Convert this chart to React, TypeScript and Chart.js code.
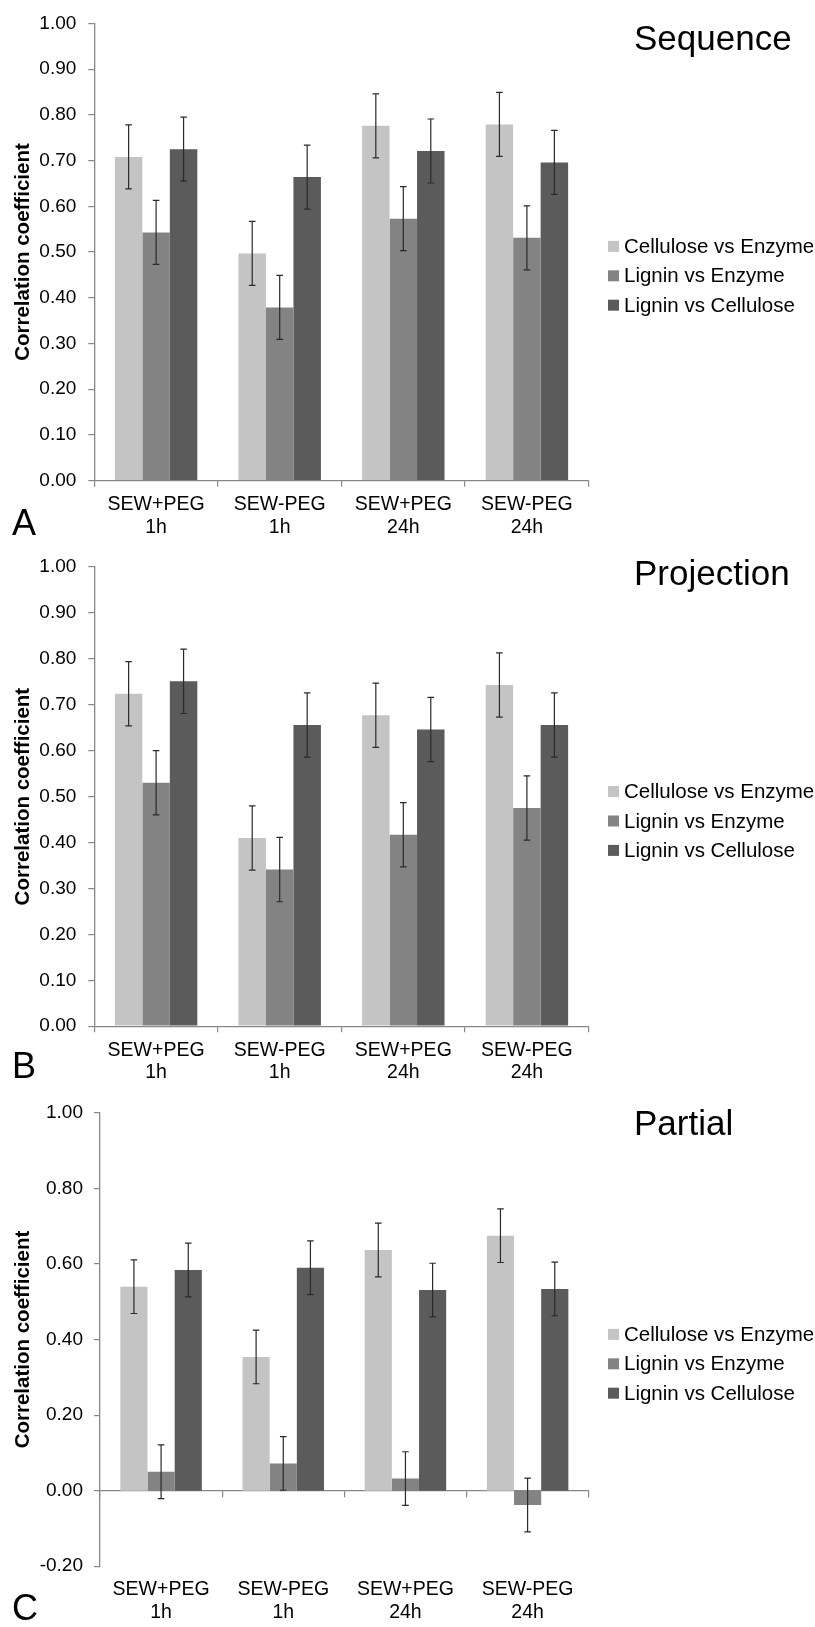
import React, { useEffect, useRef } from 'react';
import { Chart, registerables } from 'chart.js';

Chart.register(...registerables);

// ---------- data ----------
const categoryNames = ['SEW+PEG', 'SEW-PEG', 'SEW+PEG', 'SEW-PEG'];
const categoryTimes = ['1h', '1h', '24h', '24h'];
const seriesNames = ['Cellulose vs Enzyme', 'Lignin vs Enzyme', 'Lignin vs Cellulose'];
const yAxisTitle = 'Correlation coefficient';

// Sequence
const sequenceCellEnz = [0.708, 0.497, 0.776, 0.779];
const sequenceLigEnz = [0.543, 0.379, 0.573, 0.531];
const sequenceLigCel = [0.725, 0.664, 0.721, 0.696];
const sequenceCellEnzErr = [0.07, 0.07, 0.07, 0.07];
const sequenceLigEnzErr = [0.07, 0.07, 0.07, 0.07];
const sequenceLigCelErr = [0.07, 0.07, 0.07, 0.07];

// Projection
const projectionCellEnz = [0.724, 0.41, 0.677, 0.743];
const projectionLigEnz = [0.53, 0.341, 0.417, 0.475];
const projectionLigCel = [0.751, 0.656, 0.646, 0.656];
const projectionCellEnzErr = [0.07, 0.07, 0.07, 0.07];
const projectionLigEnzErr = [0.07, 0.07, 0.07, 0.07];
const projectionLigCelErr = [0.07, 0.07, 0.07, 0.07];

// Partial
const partialCellEnz = [0.54, 0.354, 0.637, 0.675];
const partialLigEnz = [0.05, 0.072, 0.032, -0.038];
const partialLigCel = [0.584, 0.59, 0.531, 0.534];
const partialCellEnzErr = [0.071, 0.071, 0.071, 0.071];
const partialLigEnzErr = [0.071, 0.071, 0.071, 0.071];
const partialLigCelErr = [0.071, 0.071, 0.071, 0.071];

// ---------- styles ----------
const FONT = '"Liberation Sans", Arial, Helvetica, sans-serif';
const seriesColors = ['#c4c4c4', '#838383', '#5b5b5b'];
const axisColor = '#878787';
const errColor = '#2a2a2a';

type PanelCfg = {
  key: string;
  title: string;
  letter: string;
  height: number;
  values: number[][];
  errors: number[][];
  yMin: number;
  yMax: number;
  yStep: number;
  centerAxis: boolean;
  yWidth: number;
  padTop: number;
  padRight: number;
  xHeight: number;
  xPad: number;
  yLabelPad: number;
  titleY: number;
  letterY: number;
  legendY: number;
};

const PANELS: PanelCfg[] = [
  {
    key: 'A', title: 'Sequence', letter: 'A', height: 540,
    values: [sequenceCellEnz, sequenceLigEnz, sequenceLigCel],
    errors: [sequenceCellEnzErr, sequenceLigEnzErr, sequenceLigCelErr],
    yMin: 0, yMax: 1, yStep: 0.1, centerAxis: false,
    yWidth: 94.3, padTop: 21.5, padRight: 226.3, xHeight: 59.3, xPad: 7, yLabelPad: 12,
    titleY: 50, letterY: 535, legendY: 275.8,
  },
  {
    key: 'B', title: 'Projection', letter: 'B', height: 540,
    values: [projectionCellEnz, projectionLigEnz, projectionLigCel],
    errors: [projectionCellEnzErr, projectionLigEnzErr, projectionLigCelErr],
    yMin: 0, yMax: 1, yStep: 0.1, centerAxis: false,
    yWidth: 94.3, padTop: 27, padRight: 226.3, xHeight: 53.8, xPad: 7, yLabelPad: 12,
    titleY: 45, letterY: 538, legendY: 281,
  },
  {
    key: 'C', title: 'Partial', letter: 'C', height: 547,
    values: [partialCellEnz, partialLigEnz, partialLigCel],
    errors: [partialCellEnzErr, partialLigEnzErr, partialLigCelErr],
    yMin: -0.2, yMax: 1, yStep: 0.2, centerAxis: true,
    yWidth: 100, padTop: 32.9, padRight: 226.3, xHeight: 60.8, xPad: 12.6, yLabelPad: 11,
    titleY: 55, letterY: 540, legendY: 283.8,
  },
];

// ---------- plugins ----------
const errorBarPlugin = {
  id: 'errorBars',
  afterDatasetsDraw(chart: any) {
    const { ctx } = chart;
    const yScale = chart.scales.y;
    chart.data.datasets.forEach((ds: any, i: number) => {
      const meta = chart.getDatasetMeta(i);
      meta.data.forEach((bar: any, j: number) => {
        const v = ds.data[j];
        const e = ds.errors[j];
        const yT = yScale.getPixelForValue(v + e);
        const yB = yScale.getPixelForValue(v - e);
        const cap = 3.3;
        ctx.save();
        ctx.strokeStyle = errColor;
        ctx.lineWidth = 1.2;
        ctx.beginPath();
        ctx.moveTo(bar.x, yT);
        ctx.lineTo(bar.x, yB);
        ctx.moveTo(bar.x - cap, yT);
        ctx.lineTo(bar.x + cap, yT);
        ctx.moveTo(bar.x - cap, yB);
        ctx.lineTo(bar.x + cap, yB);
        ctx.stroke();
        ctx.restore();
      });
    });
  },
};

const decorPlugin = {
  id: 'decor',
  afterDraw(chart: any, _args: any, opts: any) {
    const { ctx } = chart;
    ctx.save();
    // title
    ctx.fillStyle = '#000';
    ctx.textAlign = 'left';
    ctx.textBaseline = 'alphabetic';
    ctx.font = `35px ${FONT}`;
    ctx.fillText(opts.title, 634, opts.titleY);
    // panel letter
    ctx.font = `36px ${FONT}`;
    ctx.fillText(opts.letter, 12, opts.letterY);
    // legend
    const rowGap = 29.4;
    const x0 = 608;
    const box = 11;
    ctx.font = `20.5px ${FONT}`;
    ctx.textBaseline = 'middle';
    chart.data.datasets.forEach((ds: any, i: number) => {
      const cy = opts.legendY + (i - 1) * rowGap;
      ctx.fillStyle = ds.backgroundColor;
      ctx.fillRect(x0, cy - box / 2, box, box);
      ctx.fillStyle = '#000';
      ctx.fillText(ds.label, x0 + 16, cy + 1);
    });
    ctx.restore();
  },
};

function fmtTick(v: any) {
  const n = Number(v);
  return (Math.abs(n) < 1e-9 ? 0 : n).toFixed(2);
}

function buildConfig(cfg: PanelCfg): any {
  const tickFont = { family: FONT, size: 19 };
  const catFont = { family: FONT, size: 19.5, lineHeight: 1.15 };
  const labels = categoryNames.map((n, i) => [n, categoryTimes[i]]);

  const yScale = {
    type: 'linear',
    position: 'left',
    min: cfg.yMin,
    max: cfg.yMax,
    ticks: {
      stepSize: cfg.yStep,
      font: tickFont,
      color: '#000',
      padding: cfg.yLabelPad,
      callback: (v: any) => fmtTick(v),
    },
    grid: { display: true, drawOnChartArea: false, drawTicks: true, tickLength: 6, color: axisColor, lineWidth: 1.2 },
    border: { display: true, color: axisColor, width: 1.3 },
    title: {
      display: true,
      text: yAxisTitle,
      color: '#000',
      font: { family: FONT, size: 20.5, weight: 'bold', lineHeight: 1.2 },
      padding: { top: 11.4, bottom: 0 },
    },
    afterFit: (s: any) => { s.width = cfg.yWidth; },
  };

  let scales: any;
  if (!cfg.centerAxis) {
    scales = {
      x: {
        type: 'category',
        position: 'bottom',
        offset: true,
        z: 1,
        grid: { display: true, offset: true, drawOnChartArea: false, drawTicks: true, tickLength: 6, color: axisColor, lineWidth: 1.2 },
        border: { display: true, color: axisColor, width: 1.3 },
        ticks: { font: catFont, color: '#000', padding: cfg.xPad, maxRotation: 0, autoSkip: false },
        afterFit: (s: any) => { s.height = cfg.xHeight; },
      },
      y: yScale,
    };
  } else {
    scales = {
      x: {
        type: 'category',
        position: { y: 0 },
        offset: true,
        z: 1,
        grid: { display: true, offset: true, drawOnChartArea: false, drawTicks: true, tickLength: 6, color: axisColor, lineWidth: 1.2 },
        border: { display: true, color: axisColor, width: 1.3 },
        ticks: { display: false },
      },
      x2: {
        type: 'category',
        position: 'bottom',
        offset: true,
        grid: { display: false, drawTicks: false },
        border: { display: false },
        ticks: { font: catFont, color: '#000', padding: cfg.xPad, maxRotation: 0, autoSkip: false },
        afterFit: (s: any) => { s.height = cfg.xHeight; },
      },
      y: yScale,
    };
  }

  return {
    type: 'bar',
    data: {
      labels,
      datasets: seriesNames.map((name, i) => ({
        label: name,
        data: cfg.values[i],
        errors: cfg.errors[i],
        backgroundColor: seriesColors[i],
        borderWidth: 0,
        categoryPercentage: 0.667,
        barPercentage: 1,
        xAxisID: 'x',
        yAxisID: 'y',
      })),
    },
    options: {
      responsive: false,
      animation: false,
      devicePixelRatio: 1,
      layout: { padding: { left: 0, top: cfg.padTop, right: cfg.padRight, bottom: 0 } },
      plugins: {
        legend: { display: false },
        title: { display: false },
        tooltip: { enabled: false },
        decor: { title: cfg.title, letter: cfg.letter, titleY: cfg.titleY, letterY: cfg.letterY, legendY: cfg.legendY },
      },
      scales,
    },
    plugins: [errorBarPlugin, decorPlugin],
  };
}

function Panel({ cfg }: { cfg: PanelCfg }) {
  const ref = useRef<HTMLCanvasElement>(null);
  useEffect(() => {
    if (!ref.current) return;
    const chart = new Chart(ref.current, buildConfig(cfg));
    return () => chart.destroy();
  }, [cfg]);
  return (
    <div style={{ width: 815, height: cfg.height, position: 'relative' }}>
      <canvas ref={ref} width={815} height={cfg.height} style={{ display: 'block', width: 815, height: cfg.height }} />
    </div>
  );
}

export default function App() {
  return (
    <div style={{ position: 'absolute', left: 0, top: 0, width: 815, height: 1627, background: '#fff' }}>
      {PANELS.map((p) => (
        <Panel key={p.key} cfg={p} />
      ))}
    </div>
  );
}
